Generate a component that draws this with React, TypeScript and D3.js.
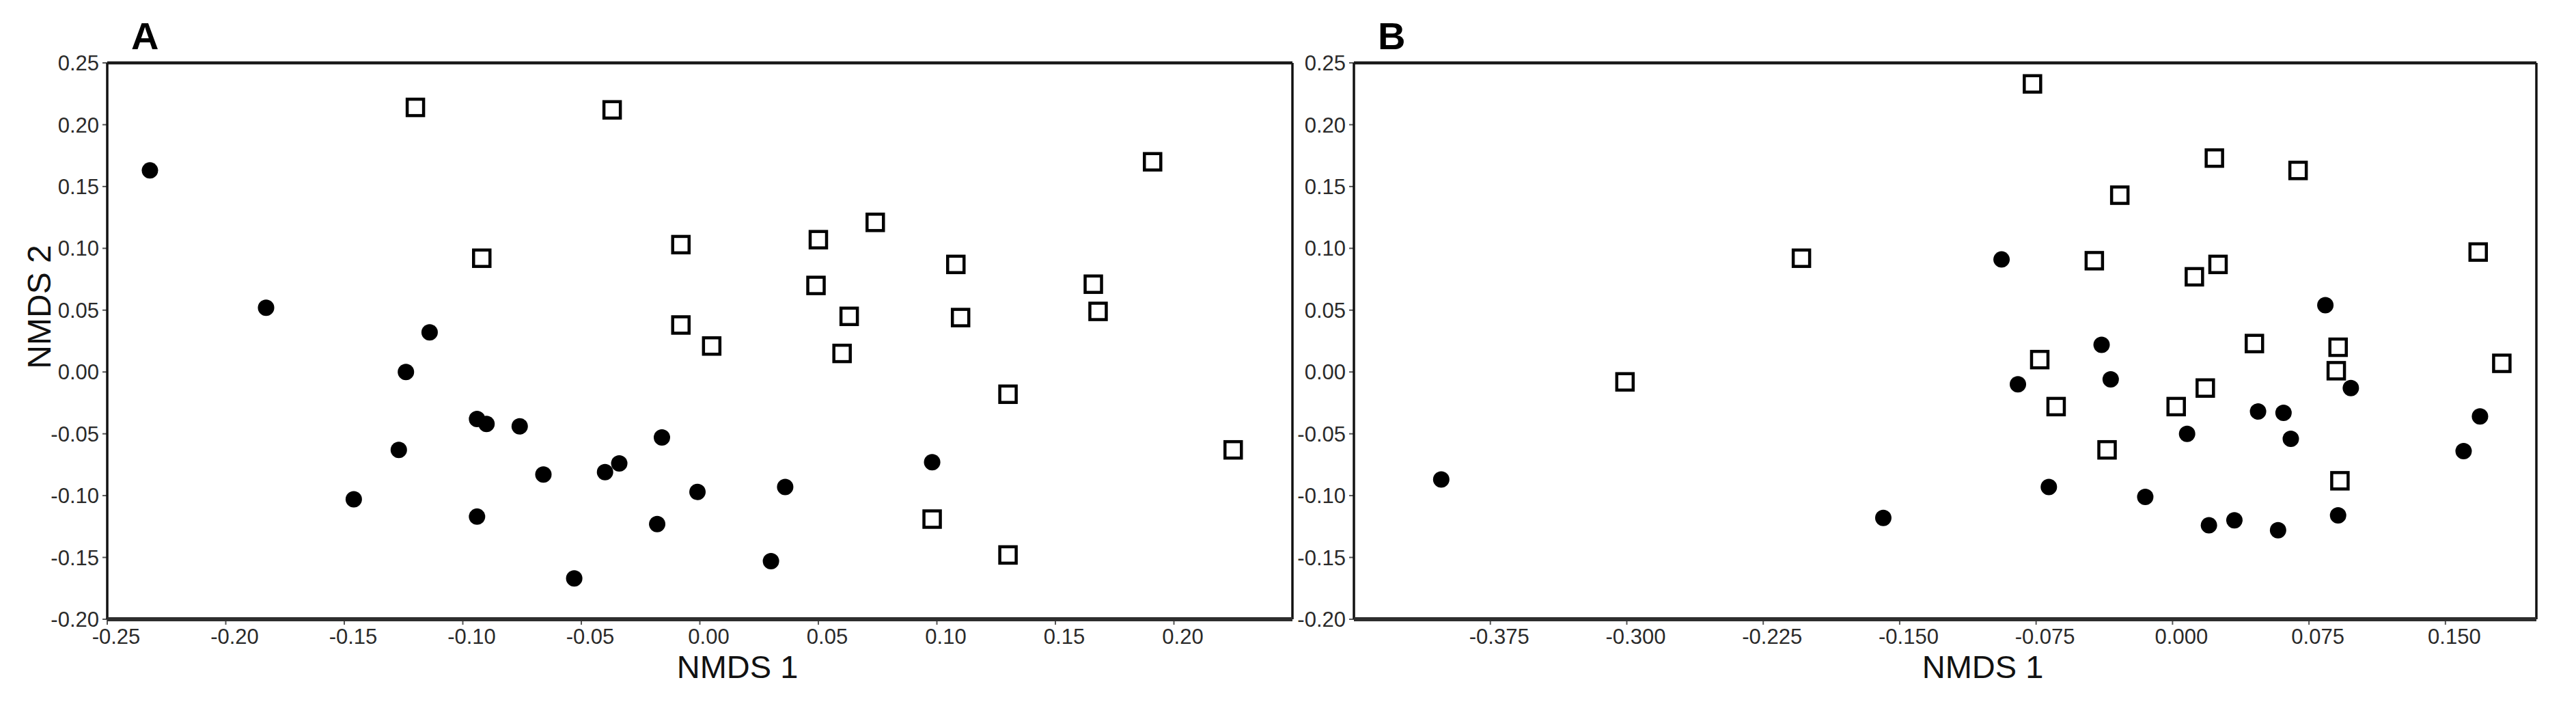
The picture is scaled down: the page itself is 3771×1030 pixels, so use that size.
import React from "react";
import * as d3 from "d3";

// ==== DATA ====

const Y_TICKS = [0.25, 0.2, 0.15, 0.1, 0.05, 0.0, -0.05, -0.1, -0.15, -0.2];
const A_X_TICKS = [-0.25, -0.2, -0.15, -0.1, -0.05, 0.0, 0.05, 0.1, 0.15, 0.2];
const B_X_TICKS = [-0.375, -0.3, -0.225, -0.15, -0.075, 0.0, 0.075, 0.15];

// panel A, open squares
const aOpenX = [-0.12, -0.037, 0.191, 0.074, 0.05, -0.008, -0.092, 0.108, 0.049, 0.166,
  0.063, 0.11, 0.168, -0.008, 0.005, 0.06, 0.13, 0.225, 0.098, 0.13];
const aOpenY = [0.214, 0.212, 0.17, 0.121, 0.107, 0.103, 0.092, 0.087, 0.07, 0.071,
  0.045, 0.044, 0.049, 0.038, 0.021, 0.015, -0.018, -0.063, -0.119, -0.148];

// panel A, filled circles
const aFillX = [-0.232, -0.183, -0.114, -0.124, -0.094, -0.09, -0.076, -0.016, -0.127, 0.098,
  -0.034, -0.04, -0.066, 0.036, -0.001, -0.146, -0.094, -0.018, 0.03, -0.053];
const aFillY = [0.163, 0.052, 0.032, 0.0, -0.038, -0.042, -0.044, -0.053, -0.063, -0.073,
  -0.074, -0.081, -0.083, -0.093, -0.097, -0.103, -0.117, -0.123, -0.153, -0.167];

// panel B, open squares
const bOpenX = [-0.077, 0.023, 0.069, -0.029, -0.204, -0.043, 0.025, 0.168, 0.012, 0.045,
  0.091, -0.073, 0.181, 0.09, -0.301, 0.018, -0.064, 0.002, -0.036, 0.092];
const bOpenY = [0.233, 0.173, 0.163, 0.143, 0.092, 0.09, 0.087, 0.097, 0.077, 0.023,
  0.02, 0.01, 0.007, 0.001, -0.008, -0.013, -0.028, -0.028, -0.063, -0.088];

// panel B, filled circles
const bFillX = [-0.094, 0.084, -0.039, -0.085, -0.034, 0.098, 0.047, 0.061, 0.169, 0.008,
  0.065, 0.16, -0.402, -0.068, -0.015, -0.159, 0.091, 0.02, 0.034, 0.058];
const bFillY = [0.091, 0.054, 0.022, -0.01, -0.006, -0.013, -0.032, -0.033, -0.036, -0.05,
  -0.054, -0.064, -0.087, -0.093, -0.101, -0.118, -0.116, -0.124, -0.12, -0.128];

// ==== LAYOUT ====

const W = 3771;
const H = 1030;
const TOP = 92;
const BOTTOM = 906;
const FONT = "'Liberation Sans', Arial, Helvetica, sans-serif";

type PanelProps = {
  letter: string;
  left: number;
  right: number;
  xDomain: [number, number];
  xTicks: number[];
  xDecimals: number;
  openX: number[];
  openY: number[];
  fillX: number[];
  fillY: number[];
  yLabel?: boolean;
};

function Panel(p: PanelProps) {
  const x = d3.scaleLinear().domain(p.xDomain).range([p.left, p.right]);
  const y = d3.scaleLinear().domain([-0.2, 0.25]).range([BOTTOM, TOP]);
  const mid = (p.left + p.right) / 2;

  const open = p.openX.map((v, i) => [v, p.openY[i]]);
  const fill = p.fillX.map((v, i) => [v, p.fillY[i]]);

  return (
    <g fontFamily={FONT}>
      {/* panel letter */}
      <text x={p.left + 35} y={72} fontSize={56} fontWeight="bold" fill="#000">
        {p.letter}
      </text>

      {/* y ticks */}
      {Y_TICKS.map((t) => (
        <g key={"y" + t}>
          <line x1={p.left - 7} x2={p.left} y1={y(t)} y2={y(t)} stroke="#555" strokeWidth={2} />
          <text
            x={p.left - 12}
            y={y(t)}
            dy="0.36em"
            textAnchor="end"
            fontSize={31}
            fill="#2a2a2a"
          >
            {t.toFixed(2)}
          </text>
        </g>
      ))}

      {/* x ticks */}
      {p.xTicks.map((t) => (
        <g key={"x" + t}>
          <line x1={x(t)} x2={x(t)} y1={BOTTOM} y2={BOTTOM + 8} stroke="#555" strokeWidth={2} />
          <text x={x(t) + 13} y={942} textAnchor="middle" fontSize={31} fill="#2a2a2a">
            {t.toFixed(p.xDecimals)}
          </text>
        </g>
      ))}

      {/* frame: thin sides, heavier top and bottom */}
      <line x1={p.left} x2={p.left} y1={TOP} y2={BOTTOM} stroke="#111" strokeWidth={3.5} />
      <line x1={p.right} x2={p.right} y1={TOP} y2={BOTTOM} stroke="#111" strokeWidth={3.5} />
      <line x1={p.left} x2={p.right} y1={TOP} y2={TOP} stroke="#1a1a1a" strokeWidth={4.5} />
      <line x1={p.left} x2={p.right} y1={BOTTOM} y2={BOTTOM} stroke="#2e2e2e" strokeWidth={6} />

      {/* points */}
      {open.map((d, i) => (
        <rect
          key={"o" + i}
          x={x(d[0]) - 12}
          y={y(d[1]) - 12}
          width={24}
          height={24}
          fill="#fff"
          stroke="#000"
          strokeWidth={4.5}
        />
      ))}
      {fill.map((d, i) => (
        <circle key={"f" + i} cx={x(d[0])} cy={y(d[1])} r={12} fill="#000" />
      ))}

      {/* axis titles */}
      <text x={mid + 55} y={992} textAnchor="middle" fontSize={47} fill="#111">
        NMDS 1
      </text>
      {p.yLabel && (
        <text
          transform={`translate(74, 449) rotate(-90)`}
          textAnchor="middle"
          fontSize={48}
          fill="#111"
        >
          NMDS 2
        </text>
      )}
    </g>
  );
}

export default function App() {
  return (
    <svg
      width={W}
      height={H}
      viewBox={`0 0 ${W} ${H}`}
      style={{ position: "absolute", left: 0, top: 0, background: "#fff" }}
    >
      <rect x={0} y={0} width={W} height={H} fill="#fff" />
      <Panel
        letter="A"
        left={157}
        right={1892}
        xDomain={[-0.25, 0.25]}
        xTicks={A_X_TICKS}
        xDecimals={2}
        openX={aOpenX}
        openY={aOpenY}
        fillX={aFillX}
        fillY={aFillY}
        yLabel
      />
      <Panel
        letter="B"
        left={1982}
        right={3713}
        xDomain={[-0.45, 0.2]}
        xTicks={B_X_TICKS}
        xDecimals={3}
        openX={bOpenX}
        openY={bOpenY}
        fillX={bFillX}
        fillY={bFillY}
      />
    </svg>
  );
}
